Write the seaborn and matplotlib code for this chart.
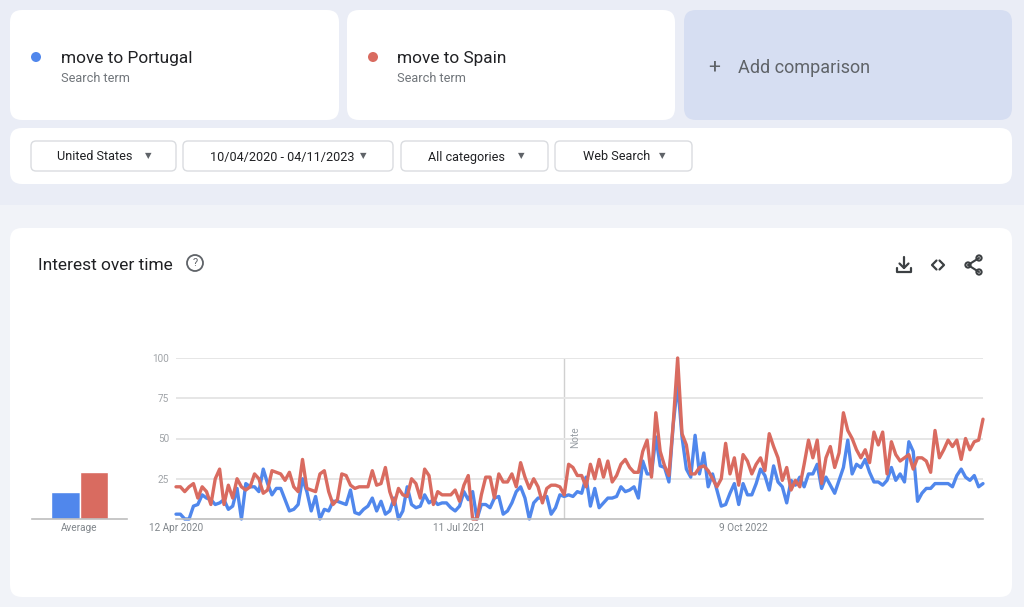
import numpy as np
import pandas as pd
import matplotlib
matplotlib.use("Agg")
import matplotlib.pyplot as plt
import seaborn as sns
from matplotlib.patches import FancyBboxPatch, Circle

# ---------------- data ----------------
TERMS = ["move to Portugal", "move to Spain"]
START_WEEK = "2020-04-12"
portugal = [3, 3, 0, 0, 8, 9, 15, 13, 12, 9, 10, 12, 6, 8, 19, 0, 22, 20, 20, 17, 31, 22, 15, 19, 19, 12, 5, 6, 9, 25,
            17, 5, 14, 0, 6, 5, 11, 11, 10, 9, 18, 4, 3, 6, 8, 13, 5, 11, 3, 5, 13, 0, 5, 20, 9, 7, 8,
            15, 10, 12, 9, 10, 10, 7, 5, 8, 17, 12, 17, 0, 9, 9, 7, 13, 14, 3, 5, 10, 17, 20, 13, 0, 10, 13, 13, 14,
            3, 7, 15, 14,
            15, 14, 17, 16, 26, 8, 19, 7, 10, 13, 13, 14, 20, 17, 18, 20, 13, 36, 28, 28, 51, 33, 32, 23, 59, 84, 51,
            31, 26, 52, 28, 41,
            20, 28, 18, 8, 9, 16, 22, 9, 22, 15, 15, 22, 31, 27, 18, 33, 23, 20, 10, 24, 21, 26, 20, 28, 28, 34, 19,
            26, 21, 16, 24, 32, 49, 28, 34, 32, 37, 29, 23, 23, 21, 24, 32, 24, 28, 23, 48, 42, 11, 16, 19, 19, 22,
            22, 22, 22, 20, 27, 31, 26, 24, 27, 20, 22]
spain = [20, 20, 17, 20, 22, 13, 20, 17, 9, 25, 31, 9, 21, 13, 25, 20, 18, 20, 28, 25, 16, 18, 30, 29, 28, 24, 29, 20,
         17, 37, 19, 18, 17, 28, 30, 17, 9, 12, 28, 27, 21, 19, 20, 20, 20, 30, 21, 22, 32, 17, 9, 19, 15, 14, 25, 22, 13,
         31, 27, 9, 17, 15, 15, 15, 18, 11, 21, 27, 0, 0, 15, 26, 26, 13, 28, 23, 23, 28, 20, 35, 26, 19, 25, 20, 10,
         19, 21, 21, 20, 15,
         34, 32, 27, 27, 20, 34, 25, 37, 26, 36, 23, 27, 34, 37, 32, 29, 29, 42, 49, 26, 66, 42, 33, 27, 60, 100, 53,
         46, 28, 28, 32,
         33, 30, 25, 20, 25, 47, 28, 38, 21, 40, 36, 28, 34, 38, 30, 53, 45, 38, 24, 32, 18, 24, 20, 34, 49, 38, 49,
         22, 38, 45, 32, 41,
         66, 55, 50, 43, 38, 43, 35, 54, 46, 54, 28, 48, 40, 36, 38, 40, 31, 38, 38, 36, 29, 55, 38, 43, 49, 45, 49,
         37, 50, 43, 48, 49, 62]
AVERAGES = [17, 29]
X_TICK_DATES = ["2020-04-12", "2021-07-11", "2022-10-09"]
X_TICK_LABELS = ["12 Apr 2020", "11 Jul 2021", "9 Oct 2022"]
Y_TICKS = [25, 50, 75, 100]
NOTE_DATE = "2021-12-26"
FILTERS = ["United States", "10/04/2020 - 04/11/2023", "All categories", "Web Search"]

# ---------------- style ----------------
BLUE = "#5087ec"
RED = "#d96b60"
COLORS = {TERMS[0]: BLUE, TERMS[1]: RED}
W, H = 1024, 607

sns.set_theme(style="white")
plt.rcParams['font.family'] = ['Roboto', 'DejaVu Sans']


def fs(px):
    return px * 0.72


fig = plt.figure(figsize=(W / 100, H / 100), dpi=100)
fig.patch.set_facecolor("#f1f3f8")
bg = fig.add_axes([0, 0, 1, 1])
bg.set_xlim(0, W)
bg.set_ylim(H, 0)
bg.axis("off")


def card(x0, y0, x1, y1, color, r=12, ec="none", lw=0):
    bg.add_patch(FancyBboxPatch((x0, y0), x1 - x0, y1 - y0,
                                boxstyle=f"round,pad=0,rounding_size={r}",
                                fc=color, ec=ec, lw=lw))


# page regions
bg.add_patch(plt.Rectangle((0, 0), W, 205, fc="#eaedf6", ec="none"))

# term cards
card(10, 10, 339, 120, "white")
card(347, 10, 675, 120, "white")
card(684, 10, 1012, 120, "#d6def2")
bg.add_patch(Circle((36, 57), 5, fc=BLUE, ec="none"))
bg.text(61, 58, TERMS[0], fontsize=fs(17.2), color="#202124", va="center", ha="left")
bg.text(61, 78, "Search term", fontsize=fs(12.8), color="#70757a", va="center", ha="left")
bg.add_patch(Circle((373, 57), 5, fc=RED, ec="none"))
bg.text(397, 58, TERMS[1], fontsize=fs(17.2), color="#202124", va="center", ha="left")
bg.text(397, 78, "Search term", fontsize=fs(12.8), color="#70757a", va="center", ha="left")
bg.text(714, 67, "+", fontsize=fs(21), color="#5f6368", va="center", ha="center")
bg.text(738, 68, "Add comparison", fontsize=fs(18), color="#5f6368", va="center", ha="left")

# filter bar
card(10, 128, 1012, 184, "white")
pills = [(31, 176, 57, 148), (183, 393, 210, 363), (401, 548, 428, 521), (555, 692, 583, 662)]
for (x0, x1, tx, ax_), label in zip(pills, FILTERS):
    card(x0, 141, x1, 171, "white", r=5, ec="#dadce0", lw=1)
    bg.text(tx, 157, label, fontsize=fs(12.6), color="#202124", va="center", ha="left")
    bg.text(ax_, 156, "▼", fontsize=fs(8.5), color="#5f6368", va="center", ha="center",
            family="DejaVu Sans")

# chart card
card(10, 228, 1012, 597, "white")
bg.text(38, 265, "Interest over time", fontsize=fs(17.4), color="#202124", va="center", ha="left")
bg.add_patch(Circle((195, 263), 8, fc="none", ec="#5f6368", lw=1.3))
bg.text(195, 263.5, "?", fontsize=fs(11), color="#5f6368", va="center", ha="center")

# icons: download
ic = "#3c4043"
bg.plot([904, 904], [257, 268], color=ic, lw=1.6)
bg.plot([899.5, 904, 908.5], [263.5, 268, 263.5], color=ic, lw=1.6)
bg.plot([897, 897, 911, 911], [268, 272, 272, 268], color=ic, lw=1.6)
# embed
bg.plot([936.5, 932, 936.5], [260.5, 265, 269.5], color=ic, lw=1.6)
bg.plot([939.5, 944, 939.5], [260.5, 265, 269.5], color=ic, lw=1.6)
# share
pts = [(979, 258), (968, 265), (979, 272)]
bg.plot([pts[0][0], pts[1][0], pts[2][0]], [pts[0][1], pts[1][1], pts[2][1]], color=ic, lw=1.5)
for p in pts:
    bg.add_patch(Circle(p, 2.6, fc="white", ec=ic, lw=1.5))

# ---------------- line chart ----------------
dates = pd.date_range(START_WEEK, periods=len(portugal), freq="7D")
df = pd.DataFrame({
    "date": np.concatenate([dates, dates]),
    "value": portugal + spain,
    "term": [TERMS[0]] * len(portugal) + [TERMS[1]] * len(spain),
})

ax = fig.add_axes([176 / W, 1 - 519 / H, (983 - 176) / W, (519 - 358) / H])
ax.patch.set_alpha(0)
sns.lineplot(data=df, x="date", y="value", hue="term", hue_order=TERMS, palette=COLORS,
             linewidth=2.4, legend=False, ax=ax, clip_on=False)
ax.set_xlim(dates[0], dates[-1])
ax.set_ylim(0, 100)
ax.set_yticks(Y_TICKS)
ax.set_yticklabels([str(v) for v in Y_TICKS])
ax.set_xticks(pd.to_datetime(X_TICK_DATES))
ax.set_xticklabels(X_TICK_LABELS)
ax.tick_params(axis="both", length=0, labelsize=fs(10), colors="#80868b")
ax.tick_params(axis="y", pad=5, colors="#a0a4a8")
ax.tick_params(axis="x", pad=3)
ax.yaxis.grid(True, color="#e6e6e6", lw=1.4)
ax.set_axisbelow(True)
for s in ["top", "right", "left"]:
    ax.spines[s].set_visible(False)
ax.spines["bottom"].set_color("#bdbdbd")
ax.spines["bottom"].set_linewidth(1.2)
ax.set_xlabel("")
ax.set_ylabel("")
note = pd.Timestamp(NOTE_DATE)
ax.axvline(note, color="#d0d0d0", lw=1, zorder=0)
ax.text(note + pd.Timedelta(days=10), 51, "Note", rotation=90, fontsize=fs(10), color="#9aa0a6",
        va="center", ha="left")

# ---------------- average bars ----------------
bax = fig.add_axes([32 / W, 1 - 519 / H, 95 / W, (519 - 358) / H])
bax.patch.set_alpha(0)
sns.barplot(x=TERMS, y=AVERAGES, hue=TERMS, palette=COLORS, width=1, legend=False, ax=bax,
            saturation=1)
bax.set_xlim(-1.14, 2.14)
bax.set_ylim(0, 100)
bax.set_yticks([])
bax.set_xticks([0.5])
bax.set_xticklabels(["Average"])
bax.tick_params(axis="x", length=0, labelsize=fs(10), colors="#80868b", pad=3)
for s in ["top", "right", "left"]:
    bax.spines[s].set_visible(False)
bax.spines["bottom"].set_color("#bdbdbd")
bax.spines["bottom"].set_linewidth(1.2)
bax.set_xlabel("")
bax.set_ylabel("")

fig.savefig("out.png", dpi=100, facecolor=fig.get_facecolor())
